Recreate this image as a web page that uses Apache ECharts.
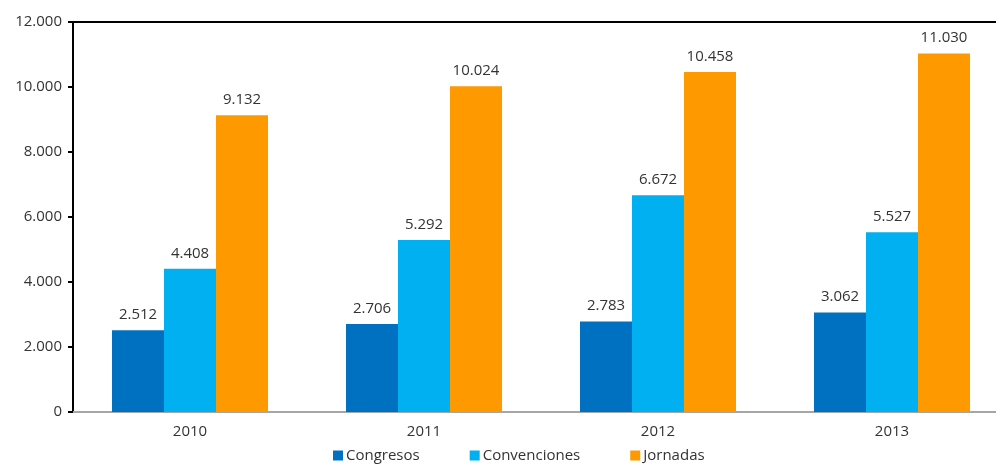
<!DOCTYPE html>
<html>
<head>
<meta charset="utf-8">
<script src="https://cdn.jsdelivr.net/npm/echarts@6/dist/echarts.min.js"></script>
<style>
  html, body { margin: 0; padding: 0; background: #fff; overflow: hidden; }
  #chart { width: 996px; height: 464px; }
</style>
</head>
<body>
<div id="chart"></div>
<script>
// Años mostrados en el eje horizontal
const years = ['2010', '2011', '2012', '2013'];

// Número de eventos por tipo
const congresos = [2512, 2706, 2783, 3062];
const convenciones = [4408, 5292, 6672, 5527];
const jornadas = [9132, 10024, 10458, 11030];

// Escala del eje vertical
const yMin = 0;
const yMax = 12000;
const yStep = 2000;

const FONT = '"Open Sans", "Noto Sans", sans-serif';
const TEXT_COLOR = '#333333';

// Separador de miles con punto
function fmt(v) {
  return String(v).replace(/\B(?=(\d{3})+(?!\d))/g, '.');
}

function barSeries(name, data, color) {
  return {
    name: name,
    type: 'bar',
    data: data,
    barWidth: 52,
    barGap: '0%',
    itemStyle: { color: color },
    label: {
      show: true,
      position: 'top',
      distance: 8,
      color: TEXT_COLOR,
      fontFamily: FONT,
      fontSize: 15,
      formatter: p => fmt(p.value)
    },
    emphasis: { disabled: true }
  };
}

const chart = echarts.init(document.getElementById('chart'), null, { renderer: 'canvas' });

chart.setOption({
  animation: false,
  backgroundColor: '#ffffff',
  // el área de trazado continúa algo más allá del borde derecho
  grid: {
    left: 73, width: 936, top: 22, bottom: 52,
    containLabel: false,
    outerBoundsMode: 'none'
  },
  legend: {
    bottom: -4,
    left: 328,
    itemWidth: 10,
    itemHeight: 10,
    itemGap: 50,
    icon: 'rect',
    textStyle: { color: TEXT_COLOR, fontFamily: FONT, fontSize: 15, padding: [0, 0, 0, -2] },
    data: ['Congresos', 'Convenciones', 'Jornadas']
  },
  xAxis: [
    {
      type: 'category',
      data: years,
      position: 'bottom',
      axisLine: { show: true, lineStyle: { color: '#a6a6a6', width: 2 } },
      axisTick: { show: false },
      axisLabel: { color: TEXT_COLOR, fontFamily: FONT, fontSize: 15, margin: 12 },
      splitLine: { show: false }
    },
    {
      type: 'category',
      data: years,
      position: 'top',
      axisLine: { show: true, lineStyle: { color: '#000000', width: 2 } },
      axisTick: { show: false },
      axisLabel: { show: false },
      splitLine: { show: false }
    }
  ],
  yAxis: {
    type: 'value',
    min: yMin,
    max: yMax,
    interval: yStep,
    axisLine: { show: true, lineStyle: { color: '#000000', width: 2 } },
    axisTick: { show: true, inside: false, length: 5, lineStyle: { color: '#000000', width: 2 } },
    axisLabel: {
      color: TEXT_COLOR,
      fontFamily: FONT,
      fontSize: 15,
      margin: 11,
      formatter: v => fmt(v)
    },
    splitLine: { show: false }
  },
  series: [
    barSeries('Congresos', congresos, '#0070c0'),
    barSeries('Convenciones', convenciones, '#00b0f0'),
    barSeries('Jornadas', jornadas, '#ff9900')
  ]
});
</script>
</body>
</html>
